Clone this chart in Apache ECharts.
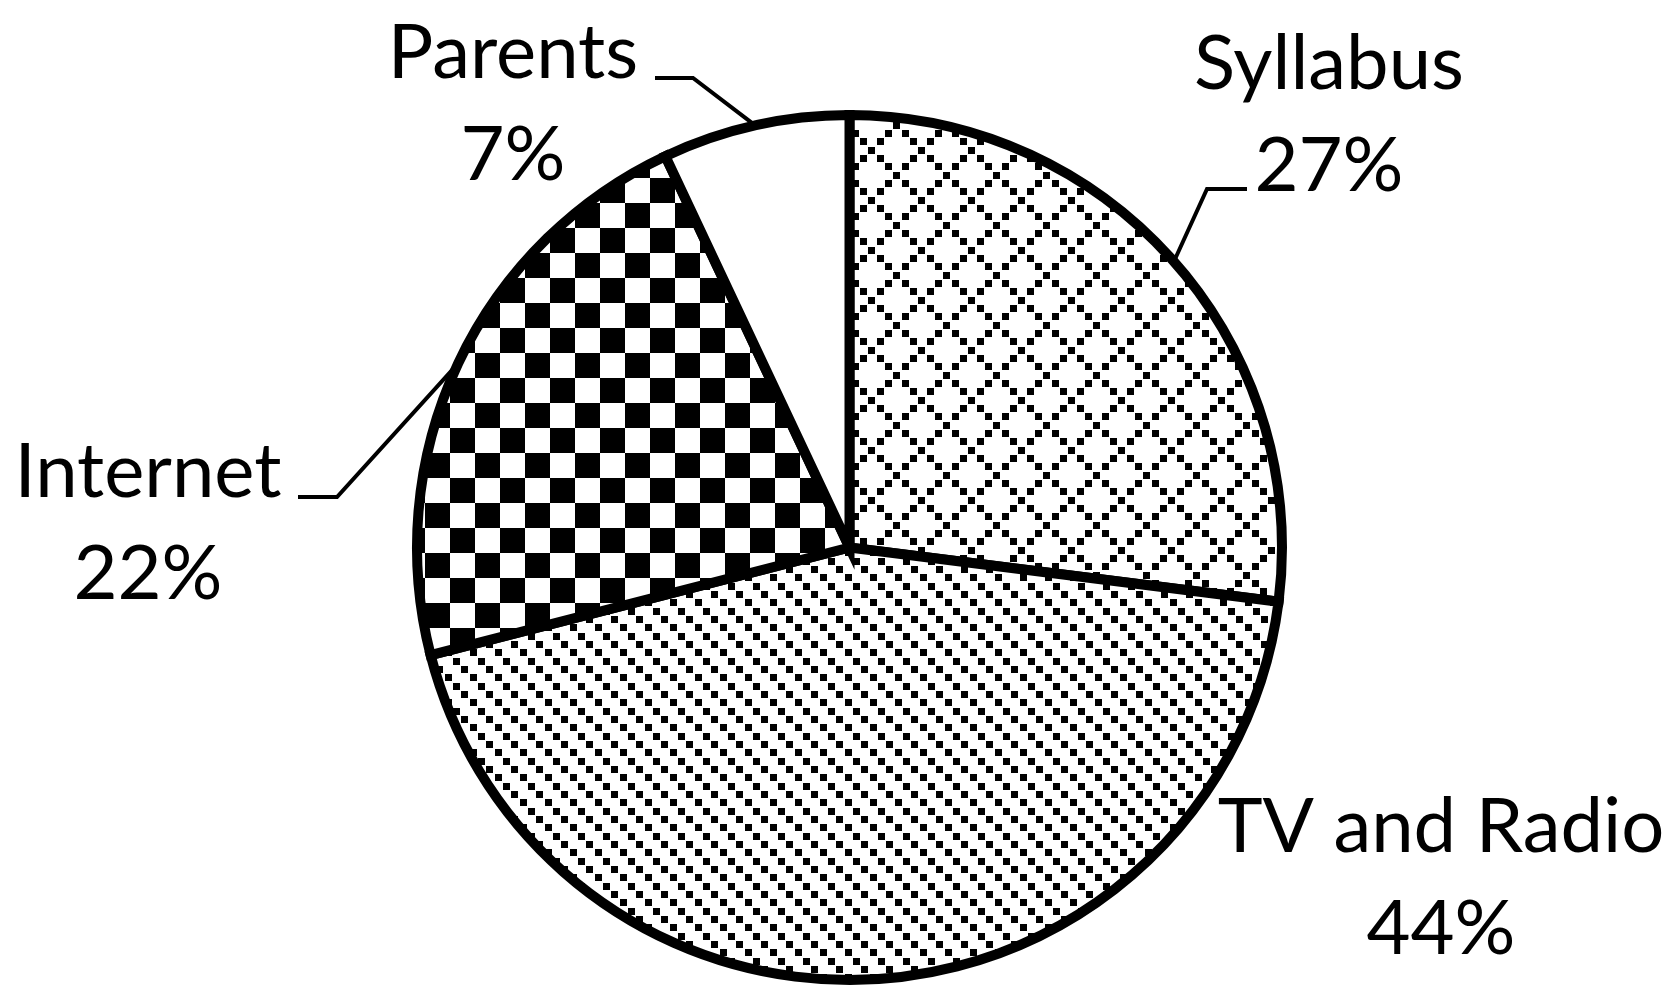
<!DOCTYPE html>
<html>
<head>
<meta charset="utf-8">
<script src="https://cdn.jsdelivr.net/npm/echarts@6/dist/echarts.min.js"></script>
<style>
html,body{margin:0;padding:0;background:#fff;}
#chart{width:1675px;height:999px;}
</style>
</head>
<body>
<div id="chart"></div>
<script>
// ---- data ----
const categories = ['Syllabus', 'TV and Radio', 'Internet', 'Parents'];
const shares = [27, 44, 22, 7];

// ---- layout (label block centres and leader-line bends, in px) ----
const labelLayoutCfg = [
  { x: 1329, y: 115, line: [[1207, 189], [1247, 189]] },
  { x: 1441, y: 878, line: null },
  { x: 148,  y: 523, line: [[337, 497], [298, 497]] },
  { x: 513,  y: 104, line: [[693, 78], [655, 78]] }
];

// ---- fill patterns ----
function makeTile(T, drawFn) {
  const c = document.createElement('canvas');
  c.width = T; c.height = T;
  const ctx = c.getContext('2d');
  ctx.fillStyle = '#fff';
  ctx.fillRect(0, 0, T, T);
  ctx.fillStyle = '#000';
  for (const ox of [-T, 0, T]) for (const oy of [-T, 0, T]) {
    ctx.save(); ctx.translate(ox, oy); drawFn(ctx); ctx.restore();
  }
  return c;
}
const S = 50 / 6, D = 7;
function dot(ctx, x, y) { ctx.fillRect(Math.round(x - D / 2), Math.round(y - D / 2), D, D); }

const diamondTile = makeTile(50, ctx => {
  for (let k = 0; k < 6; k++) {
    dot(ctx, 21.7 + k * S, k * S);
    dot(ctx, 21.7 - k * S, k * S);
  }
});
const diagTile = makeTile(50, ctx => {
  for (let k = 0; k < 6; k++) {
    dot(ctx, 23.3 + k * S, 2.7 + k * S);
    dot(ctx, 48.3 + k * S, 2.7 + k * S);
  }
});
const checkTile = makeTile(50, ctx => {
  ctx.fillRect(25, 3, 25, 25);
  ctx.fillRect(0, 28, 25, 25);
});
const whiteTile = makeTile(50, ctx => {});
const fills = [diamondTile, diagTile, checkTile, whiteTile];

const chart = echarts.init(document.getElementById('chart'), null, { renderer: 'canvas' });
chart.setOption({
  animation: false,
  backgroundColor: '#fff',
  series: [{
    type: 'pie',
    center: [849.5, 547.5],
    radius: [0, 432.5],
    startAngle: 90,
    clockwise: true,
    silent: true,
    avoidLabelOverlap: false,
    itemStyle: { borderColor: '#000', borderWidth: 10, borderJoin: 'miter' },
    label: {
      show: true,
      position: 'outside',
      formatter: '{b}\n{c}%',
      fontFamily: 'Lato',
      fontSize: 76,
      lineHeight: 102,
      color: '#000',
      align: 'center'
    },
    labelLine: { show: true, lineStyle: { color: '#000', width: 4 } },
    labelLayout: function (p) {
      const L = labelLayoutCfg[p.dataIndex];
      const res = { x: L.x, y: L.y, align: 'center', verticalAlign: 'middle' };
      if (L.line && p.labelLinePoints) {
        res.labelLinePoints = [p.labelLinePoints[0], L.line[0], L.line[1]];
      }
      return res;
    },
    data: categories.map((name, i) => ({
      name: name,
      value: shares[i],
      itemStyle: { color: { image: fills[i], repeat: 'repeat' } },
      labelLine: { show: labelLayoutCfg[i].line !== null }
    }))
  }]
});
</script>
</body>
</html>
